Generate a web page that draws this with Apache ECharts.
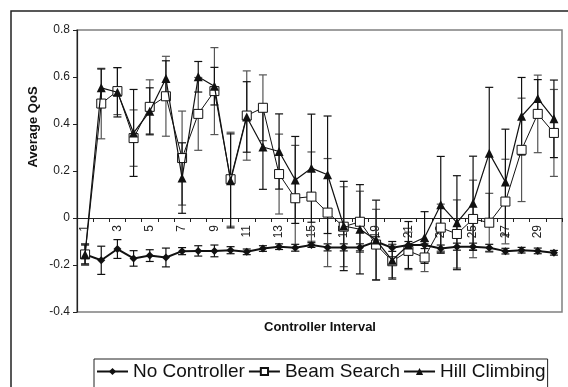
<!DOCTYPE html>
<html>
<head>
<meta charset="utf-8">
<script src="https://cdn.jsdelivr.net/npm/echarts@6/dist/echarts.min.js"></script>
<style>
  html, body { margin: 0; padding: 0; background: #fff; }
  #main { width: 568px; height: 387px; }
</style>
</head>
<body>
<div id="main"></div>
<script>
var intervals = ['1','2','3','4','5','6','7','8','9','10','11','12','13','14','15',
                 '16','17','18','19','20','21','22','23','24','25','26','27','28','29','30'];

// mean QoS per interval
var noController = [-0.155,-0.18,-0.132,-0.172,-0.16,-0.168,-0.141,-0.14,-0.14,-0.137,
                    -0.144,-0.13,-0.122,-0.127,-0.115,-0.125,-0.125,-0.125,-0.1,-0.127,
                    -0.115,-0.115,-0.13,-0.122,-0.122,-0.127,-0.141,-0.137,-0.14,-0.148];
var beamSearch   = [-0.155,0.487,0.54,0.34,0.473,0.518,0.255,0.443,0.54,0.165,
                    0.436,0.469,0.187,0.084,0.091,0.023,-0.037,-0.016,-0.113,-0.184,
                    -0.14,-0.168,-0.041,-0.068,-0.004,-0.02,0.07,0.29,0.443,0.362];
var hillClimbing = [-0.155,0.554,0.535,0.362,0.454,0.594,0.17,0.601,0.561,0.158,
                    0.43,0.302,0.283,0.162,0.212,0.184,-0.034,-0.048,-0.094,-0.18,
                    -0.115,-0.083,0.056,-0.02,0.063,0.276,0.153,0.433,0.509,0.422];

// error bar half widths
var noControllerErr = [0.045,0.06,0.04,0.033,0.025,0.04,0.015,0.022,0.025,0.015,
                       0.012,0.012,0.012,0.015,0.01,0.015,0.015,0.015,0.02,0.015,
                       0.015,0.015,0.015,0.015,0.015,0.015,0.012,0.012,0.012,0.01];
var beamSearchErr   = [0.045,0.15,0.1,0.12,0.115,0.17,0.2,0.155,0.185,0.2,
                       0.19,0.14,0.17,0.225,0.19,0.23,0.17,0.13,0.15,0.07,
                       0.08,0.06,0.1,0.145,0.165,0.125,0.18,0.22,0.165,0.185];
var hillClimbingErr = [0.04,0.08,0.105,0.185,0.1,0.075,0.15,0.065,0.08,0.2,
                       0.15,0.18,0.16,0.185,0.23,0.25,0.19,0.19,0.17,0.08,
                       0.1,0.11,0.206,0.2,0.2,0.28,0.225,0.165,0.08,0.165];

var yTicks = { min: -0.4, max: 0.8, step: 0.2 };

var font = 'Liberation Sans, Arial, sans-serif';

function errData(vals, errs) {
  return vals.map(function (v, i) { return [i, v - errs[i], v + errs[i]]; });
}

function errSeries(name, vals, errs, color) {
  return {
    name: name,
    type: 'custom',
    z: 1,
    silent: true,
    data: errData(vals, errs),
    encode: { x: 0, y: [1, 2] },
    renderItem: function (params, api) {
      var lo = api.coord([api.value(0), api.value(1)]);
      var hi = api.coord([api.value(0), api.value(2)]);
      var w = 4;
      var st = { stroke: color, lineWidth: 1.2 };
      return {
        type: 'group',
        children: [
          { type: 'line', shape: { x1: lo[0], y1: lo[1], x2: hi[0], y2: hi[1] }, style: st },
          { type: 'line', shape: { x1: lo[0] - w, y1: lo[1], x2: lo[0] + w, y2: lo[1] }, style: st },
          { type: 'line', shape: { x1: hi[0] - w, y1: hi[1], x2: hi[0] + w, y2: hi[1] }, style: st }
        ]
      };
    }
  };
}

// plot is 282px tall from -0.4 to 0.8, so the zero line sits 94px above the bottom
var plotH = 282;
var zeroOffset = -plotH * (0 - yTicks.min) / (yTicks.max - yTicks.min);

var option = {
  animation: false,
  backgroundColor: '#fff',
  textStyle: { fontFamily: font },
  grid: {
    left: 77, right: 6, top: 30, bottom: 75,
    show: true, borderColor: '#808080', borderWidth: 1.5
  },
  legend: {
    data: ['No Controller', 'Beam Search', 'Hill Climbing'],
    left: 94, top: 359,
    padding: [3, 2, 10, 2],
    itemGap: 3,
    itemWidth: 31,
    itemHeight: 9,
    borderColor: '#222',
    borderWidth: 1,
    textStyle: { fontSize: 19, color: '#111', fontFamily: font }
  },
  xAxis: {
    type: 'category',
    data: intervals,
    boundaryGap: true,
    position: 'bottom',
    offset: zeroOffset,
    axisLine: { onZero: false, lineStyle: { color: '#222', width: 1 } },
    axisTick: { show: true, interval: 0, length: 4, lineStyle: { color: '#222' } },
    axisLabel: { interval: 1, rotate: 90, fontSize: 12, color: '#222', margin: 7, fontFamily: font },
    splitLine: { show: false }
  },
  yAxis: {
    type: 'value',
    min: yTicks.min, max: yTicks.max, interval: yTicks.step,
    axisLine: { show: true, onZero: false, lineStyle: { color: '#222', width: 1.2 } },
    axisTick: { show: true, length: 4, lineStyle: { color: '#222' } },
    axisLabel: { fontSize: 12, color: '#222', margin: 7, fontFamily: font },
    splitLine: { show: false }
  },
  graphic: [
    { type: 'rect', silent: true, shape: { x: 11, y: 11, width: 700, height: 500 },
      style: { fill: null, stroke: '#222', lineWidth: 1.5 } },
    { type: 'text', silent: true, x: 33, y: 127, rotation: Math.PI / 2,
      style: { text: 'Average QoS', font: 'bold 13px ' + font, fill: '#111',
               textAlign: 'center', textVerticalAlign: 'middle' } },
    { type: 'text', silent: true, x: 320, y: 327,
      style: { text: 'Controller Interval', font: 'bold 13px ' + font, fill: '#111',
               textAlign: 'center', textVerticalAlign: 'middle' } }
  ],
  series: [
    errSeries('err-nc', noController, noControllerErr, '#111'),
    errSeries('err-bs', beamSearch, beamSearchErr, '#555'),
    errSeries('err-hc', hillClimbing, hillClimbingErr, '#111'),
    {
      name: 'No Controller',
      type: 'line',
      z: 3,
      data: noController,
      symbol: 'diamond',
      symbolSize: 8,
      lineStyle: { color: '#111', width: 2 },
      itemStyle: { color: '#111' }
    },
    {
      name: 'Beam Search',
      type: 'line',
      z: 4,
      data: beamSearch,
      symbol: 'rect',
      symbolSize: 9,
      lineStyle: { color: '#111', width: 1 },
      itemStyle: { color: '#fff', borderColor: '#111', borderWidth: 1 }
    },
    {
      name: 'Hill Climbing',
      type: 'line',
      z: 5,
      data: hillClimbing,
      symbol: 'triangle',
      symbolSize: 9,
      lineStyle: { color: '#111', width: 1.2 },
      itemStyle: { color: '#111' }
    }
  ]
};

var chart = echarts.init(document.getElementById('main'));
chart.setOption(option);
</script>
</body>
</html>
